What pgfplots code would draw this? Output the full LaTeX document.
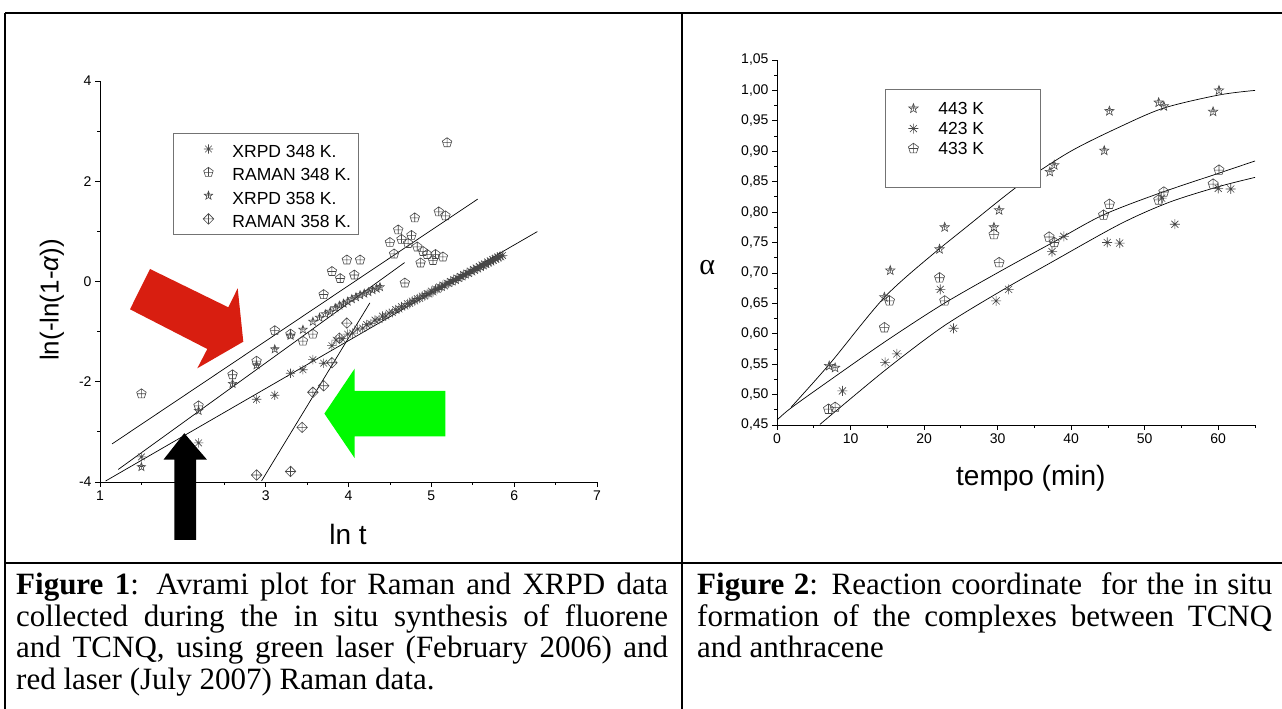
\documentclass[border=0pt]{standalone}
\usepackage{fontspec}
\setmainfont{Liberation Serif}
\newfontfamily\arial{Liberation Sans}
\usepackage{pgfplots}
\pgfplotsset{compat=1.18}

% Origin-like symbols: outline shapes with a plus inside
\pgfdeclareplotmark{pentplus}{%
  \pgfpathmoveto{\pgfqpointpolar{90}{\pgfplotmarksize}}%
  \pgfpathlineto{\pgfqpointpolar{162}{\pgfplotmarksize}}%
  \pgfpathlineto{\pgfqpointpolar{234}{\pgfplotmarksize}}%
  \pgfpathlineto{\pgfqpointpolar{306}{\pgfplotmarksize}}%
  \pgfpathlineto{\pgfqpointpolar{18}{\pgfplotmarksize}}%
  \pgfpathclose
  \pgfpathmoveto{\pgfqpoint{0pt}{\pgfplotmarksize}}%
  \pgfpathlineto{\pgfqpoint{0pt}{-.809\pgfplotmarksize}}%
  \pgfpathmoveto{\pgfqpoint{-.85\pgfplotmarksize}{0pt}}%
  \pgfpathlineto{\pgfqpoint{.85\pgfplotmarksize}{0pt}}%
  \pgfusepathqstroke}
\pgfdeclareplotmark{diamplus}{%
  \pgfpathmoveto{\pgfqpoint{0pt}{\pgfplotmarksize}}%
  \pgfpathlineto{\pgfqpoint{\pgfplotmarksize}{0pt}}%
  \pgfpathlineto{\pgfqpoint{0pt}{-\pgfplotmarksize}}%
  \pgfpathlineto{\pgfqpoint{-\pgfplotmarksize}{0pt}}%
  \pgfpathclose
  \pgfpathmoveto{\pgfqpoint{0pt}{\pgfplotmarksize}}%
  \pgfpathlineto{\pgfqpoint{0pt}{-\pgfplotmarksize}}%
  \pgfpathmoveto{\pgfqpoint{-\pgfplotmarksize}{0pt}}%
  \pgfpathlineto{\pgfqpoint{\pgfplotmarksize}{0pt}}%
  \pgfusepathqstroke}
\pgfdeclareplotmark{starplus}{%
  \pgfpathmoveto{\pgfqpointpolar{90}{\pgfplotmarksize}}%
  \pgfpathlineto{\pgfqpointpolar{126}{.42\pgfplotmarksize}}%
  \pgfpathlineto{\pgfqpointpolar{162}{\pgfplotmarksize}}%
  \pgfpathlineto{\pgfqpointpolar{198}{.42\pgfplotmarksize}}%
  \pgfpathlineto{\pgfqpointpolar{234}{\pgfplotmarksize}}%
  \pgfpathlineto{\pgfqpointpolar{270}{.42\pgfplotmarksize}}%
  \pgfpathlineto{\pgfqpointpolar{306}{\pgfplotmarksize}}%
  \pgfpathlineto{\pgfqpointpolar{342}{.42\pgfplotmarksize}}%
  \pgfpathlineto{\pgfqpointpolar{18}{\pgfplotmarksize}}%
  \pgfpathlineto{\pgfqpointpolar{54}{.42\pgfplotmarksize}}%
  \pgfpathclose
  \pgfpathmoveto{\pgfqpoint{0pt}{.6\pgfplotmarksize}}%
  \pgfpathlineto{\pgfqpoint{0pt}{-.42\pgfplotmarksize}}%
  \pgfpathmoveto{\pgfqpoint{-.4\pgfplotmarksize}{.1\pgfplotmarksize}}%
  \pgfpathlineto{\pgfqpoint{.4\pgfplotmarksize}{.1\pgfplotmarksize}}%
  \pgfusepathqstroke}
\pgfdeclareplotmark{ast8}{%
  \pgfpathmoveto{\pgfqpointpolar{0}{\pgfplotmarksize}}\pgfpathlineto{\pgfqpointpolar{180}{\pgfplotmarksize}}%
  \pgfpathmoveto{\pgfqpointpolar{45}{\pgfplotmarksize}}\pgfpathlineto{\pgfqpointpolar{225}{\pgfplotmarksize}}%
  \pgfpathmoveto{\pgfqpointpolar{90}{\pgfplotmarksize}}\pgfpathlineto{\pgfqpointpolar{270}{\pgfplotmarksize}}%
  \pgfpathmoveto{\pgfqpointpolar{135}{\pgfplotmarksize}}\pgfpathlineto{\pgfqpointpolar{315}{\pgfplotmarksize}}%
  \pgfusepathqstroke}

\definecolor{arrowred}{RGB}{216,30,16}
\definecolor{arrowgreen}{RGB}{0,250,0}

\pgfplotsset{
  originplot/.style={
    scale only axis,
    axis x line=bottom, axis y line=left,
    axis line style={-, line width=0.9pt},
    tick align=outside,
    major tick length=5pt, minor tick length=3pt,
    every tick/.style={black, line width=0.8pt},
    tick label style={font=\arial\fontsize{14}{14}\selectfont},
    /pgf/number format/assume math mode=true,
    clip=false,
  },
  pts/.style={only marks, color=black!72, mark options={line width=0.6pt}},
  fit/.style={black, line width=0.7pt, no marks, forget plot},
  leftimg/.style={legend image code/.code={\path[draw=none] (-28pt,0pt) -- (24pt,0pt); \draw[only marks] plot coordinates {(0pt,0pt)};}},
  rightimg/.style={legend image code/.code={\path[draw=none] (-21pt,0pt) -- (25pt,0pt); \draw[only marks] plot coordinates {(0pt,0pt)};}},
}

\begin{document}
\begin{tikzpicture}[x=1pt, y=1pt]
\useasboundingbox (0,0) rectangle (1282,709);
\coordinate (leftorigin) at (100,227);
\coordinate (rightorigin) at (777,284);

% ---------- Figure 1: Avrami plot ----------
\begin{axis}[originplot,
    at={(leftorigin)}, anchor=south west,
    width=497pt, height=401pt,
    xmin=1, xmax=7, ymin=-4, ymax=4,
    xtick={1,...,7}, minor xtick={1.5,2.5,...,6.5},
    ytick={-4,-2,0,2,4}, minor ytick={-3,-1,1,3},
    xlabel={ln t},
    xlabel style={font=\arial\fontsize{28}{28}\selectfont, at={(axis description cs:0.499,-0.132)}, anchor=center},
    ylabel={ln(-ln(1-{\itshape α}))},
    ylabel style={font=\arial\fontsize{26}{26}\selectfont, at={(axis description cs:-0.097,0.454)}, anchor=center},
    legend style={at={(0.147,0.870)}, anchor=north west, draw=black!55, line width=0.8pt,
      inner xsep=7pt, inner ysep=5pt, row sep=2.3pt, column sep=0pt,
      font=\arial\fontsize{17.5}{20}\selectfont,
      nodes={inner sep=0pt, text height=19pt, text depth=2pt}, cells={anchor=west}},
]
\addplot[pts, mark=ast8, mark size=4.7pt, leftimg] coordinates {
 (1.50,-3.50)(2.19,-3.22)(2.89,-2.35)(3.11,-2.27)(3.30,-1.83)(3.45,-1.76)(3.57,-1.56)(3.70,-1.63)(3.80,-1.28)
 (3.85,-1.17)(3.92,-1.14)(3.99,-1.05)(4.05,-1.03)(4.11,-0.95)(4.17,-0.93)(4.22,-0.86)(4.27,-0.84)(4.32,-0.77)
 (4.37,-0.76)(4.41,-0.69)(4.45,-0.69)(4.49,-0.63)(4.53,-0.62)(4.57,-0.56)(4.61,-0.55)(4.64,-0.50)(4.68,-0.49)
 (4.71,-0.44)(4.74,-0.44)(4.77,-0.39)(4.80,-0.39)(4.83,-0.34)(4.86,-0.34)(4.89,-0.29)(4.92,-0.29)(4.95,-0.24)
 (4.97,-0.25)(5.00,-0.19)(5.02,-0.21)(5.05,-0.15)(5.07,-0.16)(5.10,-0.11)(5.12,-0.12)(5.14,-0.07)(5.16,-0.09)
 (5.19,-0.03)(5.21,-0.04)(5.23,0.00)(5.25,-0.01)(5.27,0.04)(5.29,0.02)(5.31,0.07)(5.33,0.06)(5.35,0.10)
 (5.37,0.09)(5.39,0.14)(5.41,0.13)(5.43,0.17)(5.45,0.16)(5.47,0.21)(5.49,0.19)(5.51,0.24)(5.52,0.22)
 (5.54,0.27)(5.56,0.25)(5.58,0.30)(5.59,0.28)(5.61,0.33)(5.63,0.31)(5.64,0.35)(5.66,0.34)(5.68,0.39)
 (5.69,0.37)(5.71,0.41)(5.72,0.39)(5.74,0.44)(5.75,0.42)(5.77,0.46)(5.78,0.44)(5.80,0.49)(5.81,0.47)
 (5.83,0.51)(5.84,0.49)(5.86,0.52)};
\addlegendentry{XRPD 348 K.}
\addplot[pts, mark=pentplus, mark size=5pt, leftimg] coordinates {
 (1.50,-2.24)(2.19,-2.48)(2.60,-1.86)(2.89,-1.59)(3.11,-0.98)(3.30,-1.05)(3.45,-1.19)(3.57,-1.05)
 (3.70,-0.26)(3.80,0.20)(3.90,0.06)(3.98,0.43)(4.07,0.13)(4.14,0.43)(4.50,0.78)(4.55,0.55)
 (4.60,1.03)(4.64,0.84)(4.68,-0.03)(4.72,0.76)(4.76,0.92)(4.80,1.27)(4.83,0.69)(4.87,0.37)
 (4.90,0.60)(4.95,0.54)(5.02,0.42)(5.05,0.54)(5.09,1.39)(5.14,0.49)(5.17,1.31)(5.19,2.77)};
\addlegendentry{RAMAN 348 K.}
\addplot[pts, mark=starplus, mark size=4.4pt, leftimg] coordinates {
 (1.50,-3.70)(2.19,-2.58)(2.60,-2.04)(2.89,-1.67)(3.11,-1.35)(3.30,-1.08)(3.45,-0.96)(3.57,-0.80)
 (3.65,-0.72)(3.72,-0.65)(3.78,-0.60)(3.84,-0.53)(3.89,-0.48)(3.94,-0.44)(3.99,-0.40)(4.04,-0.35)
 (4.09,-0.31)(4.14,-0.27)(4.19,-0.24)(4.24,-0.21)(4.29,-0.17)(4.34,-0.14)(4.38,-0.11)};
\addlegendentry{XRPD 358 K.}
\addplot[pts, mark=diamplus, mark size=5.3pt, leftimg] coordinates {
 (2.89,-3.86)(3.30,-3.79)(3.44,-2.91)(3.57,-2.21)(3.70,-2.08)(3.80,-1.62)(3.89,-1.13)(3.98,-0.83)};
\addlegendentry{RAMAN 358 K.}
\addplot[fit] coordinates {(1.146,-3.24)(5.56,1.644)};
\addplot[fit] coordinates {(1.22,-3.75)(4.677,0.377)};
\addplot[fit] coordinates {(1.068,-3.98)(6.28,0.996)};
\addplot[fit] coordinates {(2.95,-3.98)(4.258,-0.427)};
\end{axis}

% ---------- Figure 2: reaction coordinate ----------
\begin{axis}[originplot,
    at={(rightorigin)}, anchor=south west,
    width=478pt, height=365pt,
    xmin=0, xmax=65, ymin=0.45, ymax=1.05,
    xtick={0,10,...,60}, minor xtick={5,15,...,65},
    ytick={0.45,0.50,0.55,0.60,0.65,0.70,0.75,0.80,0.85,0.90,0.95,1.00,1.05},
    minor ytick={0.475,0.525,0.575,0.625,0.675,0.725,0.775,0.825,0.875,0.925,0.975,1.025},
    yticklabel style={/pgf/number format/fixed, /pgf/number format/fixed zerofill,
      /pgf/number format/precision=2, /pgf/number format/use comma},
    xlabel={tempo (min)},
    xlabel style={font=\arial\fontsize{28}{28}\selectfont, at={(axis description cs:0.531,-0.145)}, anchor=center},
    ylabel={α},
    ylabel style={font=\fontsize{30}{30}\selectfont, at={(axis description cs:-0.146,0.43)}, anchor=center, rotate=-90},
    legend style={at={(0.226,0.921)}, anchor=north west, draw=black!55, line width=0.8pt,
      inner xsep=7pt, inner ysep=10.3pt, row sep=2pt, column sep=0pt,
      font=\arial\fontsize{17.5}{20}\selectfont,
      nodes={inner sep=0pt, text height=15pt, text depth=3pt}, cells={anchor=west}},
]
\addplot[pts, mark=starplus, mark size=4.9pt, rightimg] coordinates {
 (7.1,0.547)(7.9,0.544)(14.6,0.660)(15.4,0.704)(22.1,0.739)(22.8,0.775)(29.5,0.775)(30.2,0.803)
 (37.1,0.866)(37.7,0.877)(44.5,0.901)(45.2,0.966)(51.9,0.980)(52.6,0.974)(59.3,0.965)(60.1,1.000)};
\addlegendentry{443 K}
\addplot[pts, mark=ast8, mark size=5pt, rightimg] coordinates {
 (8.9,0.506)(14.7,0.553)(16.3,0.567)(22.2,0.673)(24.0,0.609)(29.8,0.654)(31.5,0.673)(37.4,0.735)
 (39.0,0.760)(44.9,0.750)(46.6,0.749)(52.3,0.823)(54.1,0.780)(60.0,0.839)(61.7,0.838)};
\addlegendentry{423 K}
\addplot[pts, mark=pentplus, mark size=5.3pt, rightimg] coordinates {
 (7.0,0.476)(7.9,0.479)(14.6,0.610)(15.3,0.654)(22.1,0.692)(22.8,0.654)(29.5,0.763)(30.2,0.717)
 (37.0,0.759)(37.7,0.750)(44.4,0.795)(45.2,0.813)(51.9,0.820)(52.6,0.833)(59.3,0.846)(60.1,0.869)};
\addlegendentry{433 K}
\addlegendimage{empty legend}
\addlegendentry{\hspace*{95pt}}
\addplot[fit, smooth] coordinates {(1.9,0.479)(7.2,0.551)(14.7,0.661)(22.1,0.740)(25.3,0.771)(33,0.845)(39.8,0.899)(46.6,0.940)(52.6,0.971)(60.1,0.9925)(65,1.0)};
\addplot[fit, smooth] coordinates {(0,0.458)(1.8,0.477)(7,0.522)(14.7,0.587)(22.6,0.649)(30.7,0.705)(37.5,0.750)(44.3,0.795)(52.0,0.831)(60.1,0.864)(65,0.884)};
\addplot[fit, smooth] coordinates {(5.84,0.451)(14.7,0.540)(22.6,0.612)(30.7,0.672)(37.1,0.716)(46.6,0.780)(53.3,0.816)(60.1,0.842)(65,0.857)};
\end{axis}

% ---------- annotation arrows ----------
\fill[arrowred] (150,440) -- (228.3,401.7) -- (237.7,420.7) -- (243.3,367.3) -- (197.3,340.7) -- (207.3,360) -- (130,399.7) -- cycle;
\fill[arrowgreen] (324.4,295.4) -- (354.7,340.4) -- (354.7,318) -- (445.4,318) -- (445.4,272.6) -- (354.7,272.6) -- (354.7,250.8) -- cycle;
\fill[black] (184.3,275.8) -- (206.9,249.4) -- (196,249.4) -- (196,169) -- (174.3,169) -- (174.3,249.4) -- (163.5,249.4) -- cycle;

% ---------- table rules ----------
\draw[line width=2pt] (5,696) -- (1282,696);
\draw[line width=2pt] (5,696) -- (5,0);
\draw[line width=2pt] (682,696) -- (682,0);
\draw[line width=2pt] (5,146) -- (1282,146);

% ---------- captions ----------
\node[anchor=base west, inner sep=0pt, text width=652pt, align=justify,
      font=\fontsize{31}{31.5}\selectfont] at (16,114)
  {\textbf{Figure 1}: Avrami plot for Raman and XRPD data\linebreak
   collected during the in situ synthesis of fluorene\linebreak
   and TCNQ, using green laser (February 2006) and\linebreak
   red laser (July 2007) Raman data.};
\node[anchor=base west, inner sep=0pt, text width=575pt, align=justify,
      font=\fontsize{31}{31.5}\selectfont] at (697,114)
  {\textbf{Figure 2}: Reaction coordinate\ \ for the in situ\linebreak
   formation of the complexes between TCNQ\linebreak
   and anthracene};
\end{tikzpicture}
\end{document}
